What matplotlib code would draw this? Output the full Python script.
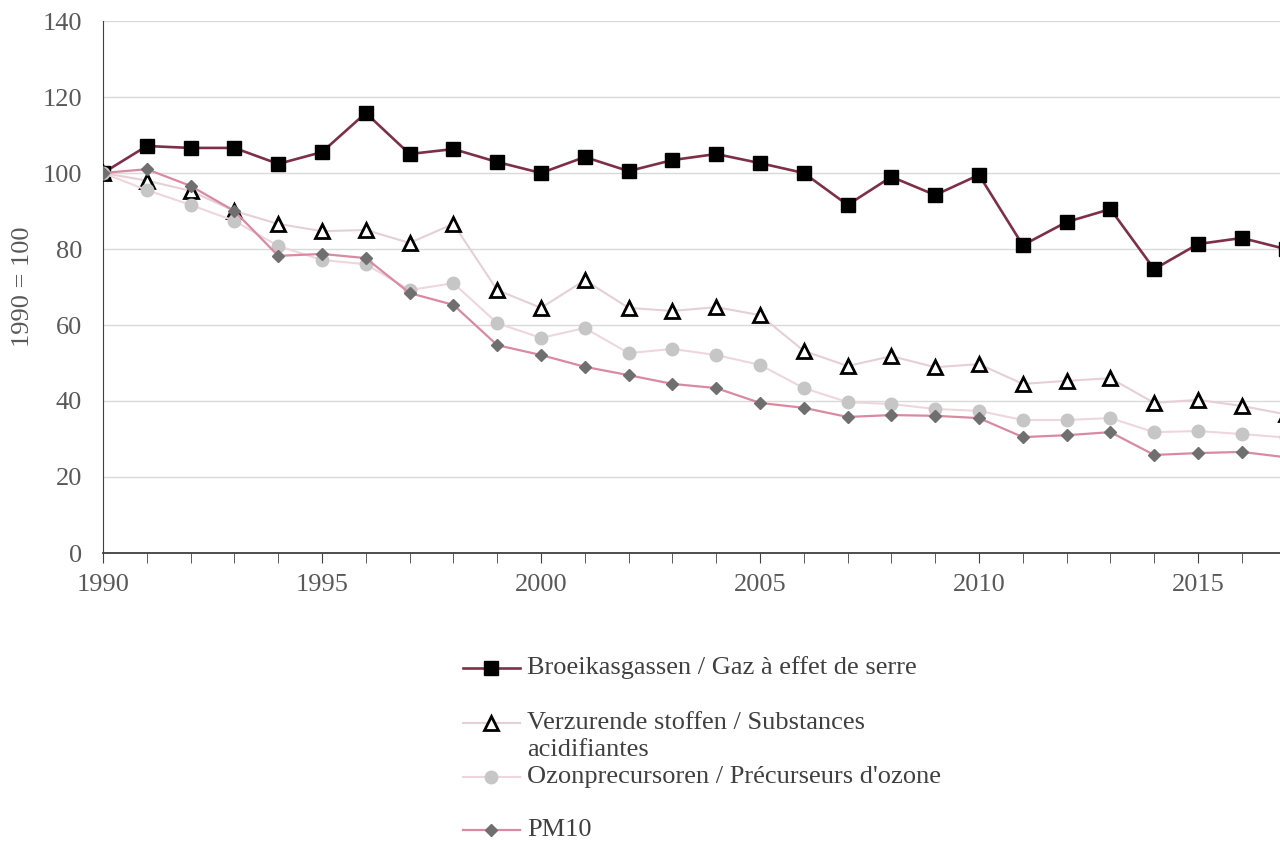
import matplotlib
matplotlib.use("Agg")
import matplotlib.pyplot as plt
from matplotlib.lines import Line2D
from matplotlib.ticker import MultipleLocator

plt.rcParams['font.family'] = ['Liberation Serif', 'DejaVu Serif']

years = list(range(1990, 2018))
ghg = [100, 107.1, 106.6, 106.6, 102.4, 105.5, 115.8, 105.0, 106.3, 102.9,
       100.0, 104.2, 100.5, 103.4, 105.0, 102.6, 100.0, 91.6, 99.0, 94.2,
       99.5, 81.0, 87.1, 90.5, 74.7, 81.3, 82.9, 80.0]
acid = [100, 98.0, 95.3, 90.0, 86.6, 84.7, 85.0, 81.6, 86.6, 69.2,
        64.5, 71.8, 64.5, 63.7, 64.7, 62.6, 53.2, 49.2, 51.8, 48.9,
        49.7, 44.5, 45.3, 46.0, 39.5, 40.3, 38.7, 36.5]
ozone = [100, 95.5, 91.6, 87.4, 80.8, 77.1, 76.0, 69.2, 71.0, 60.5,
         56.6, 59.2, 52.6, 53.7, 52.1, 49.5, 43.4, 39.7, 39.2, 37.9,
         37.4, 35.0, 35.0, 35.5, 31.8, 32.1, 31.3, 30.4]
pm10 = [100, 101.0, 96.6, 90.0, 78.2, 78.7, 77.6, 68.4, 65.3, 54.7,
        52.1, 49.0, 46.8, 44.5, 43.4, 39.5, 38.2, 35.8, 36.3, 36.1,
        35.5, 30.5, 31.0, 31.8, 25.8, 26.3, 26.6, 25.2]

labels = [["Broeikasgassen / Gaz à effet de serre"],
          ["Verzurende stoffen / Substances", "acidifiantes"],
          ["Ozonprecursoren / Précurseurs d'ozone"],
          ["PM10"]]

styles = [
    dict(color="#7e2f48", lw=1.9, marker="s", ms=10, mfc="black", mec="black", mew=1),
    dict(color="#e6cfd6", lw=1.5, marker="^", ms=10, mfc="white", mec="black", mew=2),
    dict(color="#efd6dd", lw=1.5, marker="o", ms=9, mfc="#c6c6c6", mec="#c6c6c6", mew=1),
    dict(color="#d98aa0", lw=1.6, marker="D", ms=6.5, mfc="#6f6f6f", mec="#6f6f6f", mew=1),
]

W, H = 1280, 841
fig = plt.figure(figsize=(W / 100, H / 100), dpi=100)
ax = fig.add_axes([103 / W, 1 - 553 / H, 1 - 103 / W, (553 - 21) / H])

series = [ghg, acid, ozone, pm10]
for vals, st in zip(series, styles):
    ax.plot(years, vals, **st, zorder=3)

FS = 19
ax.set_xlim(1990, 1990 + 1177 / 43.8)
ax.set_ylim(0, 140)
ax.yaxis.set_major_locator(MultipleLocator(20))
ax.xaxis.set_major_locator(MultipleLocator(5))
ax.xaxis.set_minor_locator(MultipleLocator(1))
ax.grid(axis="y", color="#d9d9d9", lw=1.0, zorder=0)
for s in ["top", "right"]:
    ax.spines[s].set_visible(False)
ax.spines["left"].set_color("#404040")
ax.spines["bottom"].set_color("#404040")
ax.spines["bottom"].set_linewidth(1.3)
ax.tick_params(axis="x", which="both", direction="out", length=7, color="#404040",
               labelsize=FS, labelcolor="#595959", pad=8)
ax.tick_params(axis="y", length=0, labelsize=FS, labelcolor="#595959", pad=15)
ax.set_ylabel("1990 = 100", fontsize=FS, color="#595959", labelpad=6)

# manual legend
x0, x1, xm, xt = 463 / W, 520 / W, 491 / W, 527 / W
ys = [668, 723, 777, 830]
for i, (st, lab) in enumerate(zip(styles, labels)):
    yf = 1 - ys[i] / H
    ln = Line2D([x0, xm, x1], [yf, yf, yf], transform=fig.transFigure,
                markevery=[1], **st)
    fig.add_artist(ln)
    for j, line in enumerate(lab):
        fig.text(xt, 1 - (ys[i] + 27 * j) / H, line, fontsize=FS, color="#404040",
                 va="center", ha="left")

fig.savefig("out.png", dpi=100)
